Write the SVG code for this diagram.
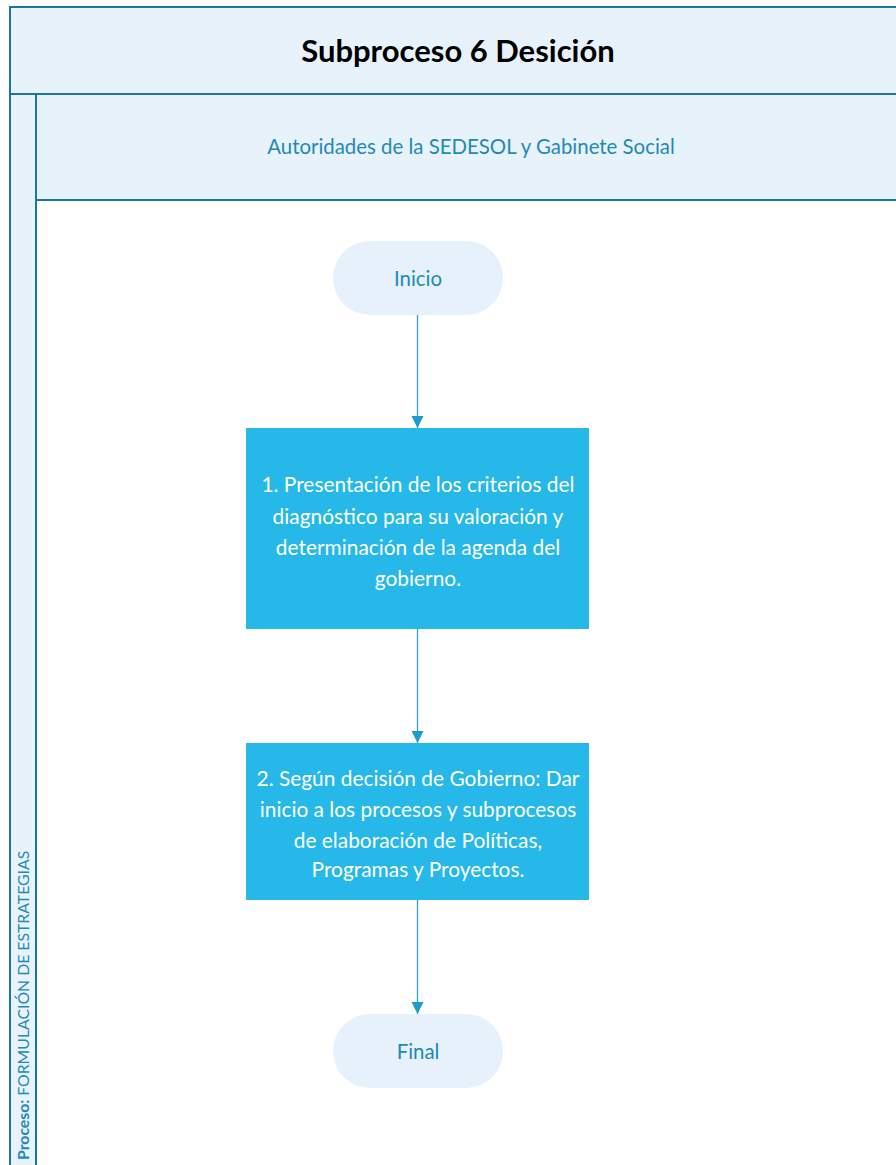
<svg xmlns="http://www.w3.org/2000/svg" width="896" height="1165" viewBox="0 0 896 1165">
<style>
.frame{fill:#E8F2FB;stroke:#1B7898;stroke-width:2}
.term{fill:#E6F1FB}
.proc{fill:#25B8E8}
.t{font-family:Lato,"Open Sans","Liberation Sans",sans-serif;text-anchor:middle}
.tt{fill:#1E8AB5;font-size:20.4px}
.pt{fill:#FFFFFF;font-size:20.9px}
.conn{stroke:#2BA3CF;stroke-width:1.3;fill:none}
</style>
<defs>
<marker id="arr" markerWidth="12" markerHeight="14" refX="12" refY="6" orient="auto" markerUnits="userSpaceOnUse" viewBox="0 0 12 12">
<path d="M0,0 L12,6 L0,12 Z" fill="#1E9CCB"/>
</marker>
</defs>
<rect width="896" height="1165" fill="#FFFFFF"/>
<g id="pool">
<rect class="frame" x="10" y="7" width="890" height="87"/>
<rect class="frame" x="10" y="94" width="26" height="1075"/>
<rect class="frame" x="36" y="94" width="864" height="106"/>
<line x1="36" y1="200" x2="36" y2="1165" stroke="#1B7898" stroke-width="2"/>
<text class="t" x="458" y="62" font-size="31" font-weight="bold" fill="#000000">Subproceso 6 Desición</text>
<text class="t tt" x="471" y="154">Autoridades de la SEDESOL y Gabinete Social</text>
<text transform="translate(28.5,1160) rotate(-90)" font-family="Lato,'Open Sans','Liberation Sans',sans-serif" font-size="15.8" fill="#1E8AB5"><tspan font-weight="bold">Proceso: </tspan>FORMULACIÓN DE ESTRATEGIAS</text>
</g>
<g id="connectors">
<line class="conn" x1="417.5" y1="315" x2="417.5" y2="428" marker-end="url(#arr)"/>
<line class="conn" x1="417.5" y1="629" x2="417.5" y2="743" marker-end="url(#arr)"/>
<line class="conn" x1="417.5" y1="900" x2="417.5" y2="1014" marker-end="url(#arr)"/>
</g>
<g id="inicio">
<rect class="term" x="333" y="241" width="170" height="74" rx="37"/>
<text class="t tt" x="418" y="286">Inicio</text>
</g>
<g id="paso1">
<rect class="proc" x="246" y="428" width="343" height="201"/>
<text class="t pt" x="418" y="492">1. Presentación de los criterios del</text>
<text class="t pt" x="418" y="524">diagnóstico para su valoración y</text>
<text class="t pt" x="418" y="555">determinación de la agenda del</text>
<text class="t pt" x="418" y="586">gobierno.</text>
</g>
<g id="paso2">
<rect class="proc" x="246" y="743" width="343" height="157"/>
<text class="t pt" x="418" y="786">2. Según decisión de Gobierno: Dar</text>
<text class="t pt" x="418" y="817">inicio a los procesos y subprocesos</text>
<text class="t pt" x="418" y="848">de elaboración de Políticas,</text>
<text class="t pt" x="418" y="877">Programas y Proyectos.</text>
</g>
<g id="final">
<rect class="term" x="333" y="1014" width="170" height="74" rx="37"/>
<text class="t tt" x="418" y="1059">Final</text>
</g>
</svg>
